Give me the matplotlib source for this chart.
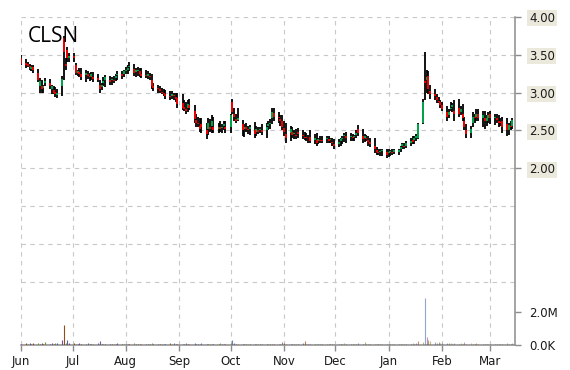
import matplotlib
matplotlib.use('Agg')
import matplotlib.pyplot as plt
import matplotlib.dates as mdates
import numpy as np
import pandas as pd

ticker = "CLSN"
start_date = "2018-06-01"
end_date = "2019-03-14"

# OHLC per trading day (Jun .. Mar)
opens = [
    3.46,3.39,3.37,3.35,3.31,3.33, 3.26,3.09,3.08,3.06,3.12, 3.13,3.04,3.03,3.01,2.97, 3.08,3.72,3.38,3.56,3.46,  # Jun
    3.48,3.36,3.26,3.27,3.24, 3.23,3.25,3.22,3.21,3.21, 3.19,3.10,3.07,3.13,3.17, 3.17,3.16,3.17,3.19,3.23, 3.24,3.25,  # Jul
    3.28,3.30,3.33, 3.31,3.27,3.29,3.28,3.24, 3.23,3.22,3.22,3.16,3.08, 3.06,3.04,3.01,3.00,2.98, 2.96,2.96,2.97,2.94,2.93,  # Aug
    2.86,2.81,2.78,2.80,2.83, 2.76,2.64,2.60,2.56,2.58, 2.50,2.52,2.55,2.56,2.55, 2.52,2.54,2.53,2.56,2.55,  # Sep
    2.55,2.88,2.71,2.65,2.64, 2.58,2.52,2.54,2.51,2.52, 2.50,2.48,2.50,2.50,2.51, 2.50,2.56,2.58,2.66,2.73, 2.68,2.65,2.62,  # Oct
    2.53,2.45, 2.46,2.48,2.45,2.44,2.48, 2.44,2.41,2.41,2.39,2.41, 2.37,2.37,2.36,2.37,2.37, 2.38,2.38,2.37,2.35,2.32,  # Nov
    2.32,2.36,2.39,2.42,2.43, 2.41,2.41,2.41,2.44,2.52, 2.43,2.40,2.40,2.37,2.35, 2.30,2.24,2.21,2.21,2.23, 2.22,  # Dec
    2.20,2.21,2.21,2.22, 2.21,2.25,2.29,2.30,2.30, 2.34,2.37,2.37,2.40,2.40, 2.60,3.15,3.16,3.22,3.02, 2.98,2.94,2.89,2.87,  # Jan
    2.83, 2.74,2.70,2.78,2.81,2.76, 2.80,2.74,2.72,2.62,2.50, 2.46,2.60,2.68,2.68,2.72, 2.67,2.67,2.63,2.67,  # Feb
    2.71, 2.66,2.66,2.62,2.61,2.62, 2.58,2.51,2.56,2.56,  # Mar
]
highs = [
    3.50,3.44,3.40,3.38,3.36,3.36, 3.31,3.19,3.16,3.10,3.19, 3.18,3.10,3.08,3.07,3.05, 3.22,3.74,3.46,3.60,3.52,
    3.52,3.39,3.30,3.32,3.32, 3.30,3.28,3.26,3.27,3.27, 3.25,3.17,3.12,3.20,3.23, 3.22,3.20,3.22,3.24,3.28, 3.28,3.30,
    3.34,3.36,3.40, 3.38,3.32,3.34,3.32,3.32, 3.30,3.28,3.26,3.24,3.12, 3.10,3.08,3.06,3.04,3.03, 3.02,3.02,3.00,2.99,3.00,
    2.98,2.90,2.88,2.90,2.92, 2.83,2.72,2.68,2.66,2.66, 2.60,2.67,2.65,2.70,2.68, 2.60,2.63,2.58,2.63,2.62,
    2.72,2.91,2.79,2.72,2.80, 2.64,2.58,2.60,2.56,2.57, 2.61,2.56,2.55,2.54,2.58, 2.60,2.62,2.65,2.80,2.79, 2.74,2.70,2.70,
    2.62,2.60, 2.56,2.54,2.50,2.52,2.53, 2.50,2.48,2.46,2.44,2.50, 2.45,2.46,2.40,2.42,2.42, 2.43,2.42,2.40,2.40,2.38,
    2.38,2.40,2.42,2.47,2.48, 2.46,2.45,2.44,2.50,2.57, 2.52,2.45,2.44,2.42,2.40, 2.40,2.28,2.26,2.25,2.26, 2.26,
    2.25,2.24,2.25,2.26, 2.26,2.30,2.34,2.34,2.36, 2.40,2.42,2.42,2.45,2.60, 2.92,3.54,3.30,3.28,3.10, 3.04,2.98,2.94,2.90,
    2.87, 2.82,2.78,2.87,2.86,2.90, 2.92,2.82,2.85,2.68,2.58, 2.56,2.74,2.72,2.78,2.78, 2.75,2.76,2.70,2.74,
    2.76, 2.72,2.72,2.70,2.66,2.68, 2.66,2.60,2.62,2.66,
]
lows = [
    3.36,3.32,3.33,3.30,3.28,3.26, 3.14,3.00,3.00,3.00,3.08, 3.05,2.98,2.98,2.94,2.93, 2.96,3.16,3.30,3.40,3.40,
    3.40,3.23,3.22,3.20,3.16, 3.14,3.18,3.15,3.16,3.14, 3.14,3.00,3.03,3.08,3.07, 3.10,3.10,3.12,3.15,3.17, 3.18,3.20,
    3.24,3.25,3.28, 3.22,3.20,3.22,3.20,3.19, 3.19,3.18,3.16,3.05,3.02, 3.00,3.00,2.98,2.95,2.92, 2.90,2.92,2.90,2.88,2.80,
    2.77,2.75,2.72,2.74,2.77, 2.60,2.55,2.54,2.48,2.47, 2.38,2.44,2.48,2.46,2.46, 2.46,2.48,2.47,2.50,2.47,
    2.47,2.72,2.63,2.60,2.62, 2.42,2.41,2.48,2.45,2.44, 2.40,2.42,2.45,2.46,2.44, 2.40,2.50,2.52,2.58,2.62, 2.60,2.56,2.50,
    2.42,2.34, 2.36,2.40,2.38,2.38,2.40, 2.38,2.37,2.36,2.34,2.33, 2.32,2.30,2.32,2.34,2.33, 2.33,2.34,2.33,2.30,2.26,
    2.28,2.30,2.32,2.35,2.34, 2.36,2.36,2.36,2.40,2.42, 2.33,2.35,2.36,2.30,2.28, 2.20,2.17,2.17,2.16,2.16, 2.14,
    2.15,2.16,2.18,2.19, 2.18,2.22,2.26,2.25,2.27, 2.30,2.32,2.32,2.36,2.39, 2.58,2.90,3.00,2.98,2.92, 2.90,2.86,2.86,2.80,
    2.75, 2.63,2.66,2.76,2.74,2.63, 2.68,2.70,2.62,2.50,2.40, 2.40,2.55,2.60,2.62,2.62, 2.55,2.52,2.56,2.60,
    2.58, 2.57,2.60,2.55,2.56,2.46, 2.43,2.44,2.50,2.52,
]
closes = [
    3.38,3.36,3.35,3.33,3.33,3.30, 3.16,3.15,3.05,3.08,3.15, 3.08,3.08,3.00,2.98,3.00, 3.18,3.54,3.35,3.45,3.48,
    3.45,3.26,3.28,3.25,3.20, 3.26,3.22,3.20,3.24,3.18, 3.16,3.04,3.10,3.15,3.20, 3.14,3.18,3.15,3.22,3.24, 3.22,3.28,
    3.30,3.32,3.35, 3.26,3.30,3.30,3.25,3.22, 3.22,3.24,3.20,3.08,3.06, 3.04,3.02,3.00,2.98,2.96, 2.94,2.98,2.95,2.92,2.85,
    2.80,2.78,2.75,2.85,2.80, 2.65,2.60,2.58,2.52,2.55, 2.45,2.60,2.52,2.62,2.50, 2.55,2.52,2.55,2.58,2.52,
    2.70,2.74,2.68,2.62,2.66, 2.50,2.55,2.52,2.50,2.54, 2.45,2.52,2.48,2.52,2.48, 2.55,2.58,2.60,2.74,2.68, 2.66,2.62,2.55,
    2.48,2.40, 2.52,2.44,2.46,2.42,2.45, 2.42,2.40,2.40,2.38,2.36, 2.40,2.34,2.38,2.36,2.36, 2.40,2.36,2.38,2.33,2.30,
    2.35,2.38,2.40,2.44,2.40, 2.42,2.40,2.42,2.47,2.46, 2.38,2.42,2.38,2.35,2.32, 2.26,2.22,2.20,2.22,2.24, 2.18,
    2.22,2.22,2.20,2.24, 2.24,2.28,2.32,2.28,2.34, 2.36,2.35,2.40,2.42,2.58, 2.88,3.12,3.20,3.04,2.98, 2.95,2.90,2.88,2.84,
    2.78, 2.68,2.74,2.80,2.84,2.72, 2.72,2.78,2.66,2.55,2.45, 2.52,2.68,2.66,2.72,2.66, 2.70,2.62,2.66,2.70,
    2.66, 2.68,2.64,2.60,2.60,2.55, 2.50,2.57,2.55,2.64,
]
# volume in millions of shares
volumes_m = [
    0.08,0.12,0.06,0.10,0.05,0.15, 0.10,0.08,0.12,0.06,0.18, 0.09,0.14,0.07,0.12,0.10, 0.30,1.20,0.10,0.30,0.12,
    0.15,0.08,0.05,0.10,0.06, 0.08,0.12,0.06,0.09,0.07, 0.10,0.22,0.08,0.06,0.09, 0.07,0.05,0.08,0.06,0.10, 0.07,0.06,
    0.05,0.08,0.06, 0.10,0.07,0.05,0.08,0.06, 0.07,0.09,0.05,0.12,0.08, 0.06,0.07,0.05,0.09,0.06, 0.10,0.07,0.12,0.08,0.06,
    0.08,0.06,0.12,0.07,0.05, 0.15,0.08,0.06,0.07,0.10, 0.09,0.06,0.08,0.05,0.07, 0.06,0.10,0.07,0.05,0.08,
    0.12,0.30,0.10,0.07,0.06, 0.09,0.07,0.05,0.08,0.06, 0.07,0.05,0.08,0.06,0.07, 0.06,0.08,0.05,0.07,0.06, 0.08,0.06,0.18,
    0.10,0.07, 0.06,0.08,0.05,0.09,0.06, 0.12,0.25,0.08,0.06,0.07, 0.05,0.08,0.06,0.07,0.05, 0.08,0.06,0.07,0.09,0.06,
    0.07,0.05,0.08,0.15,0.06, 0.07,0.05,0.06,0.08,0.10, 0.06,0.18,0.07,0.05,0.06, 0.05,0.04,0.06,0.08,0.07, 0.09,
    0.05,0.08,0.06,0.07, 0.06,0.09,0.07,0.05,0.08, 0.07,0.10,0.08,0.12,0.25, 0.20,2.85,0.50,0.30,0.25, 0.18,0.15,0.20,0.12,
    0.15, 0.12,0.10,0.14,0.08,0.10, 0.09,0.12,0.08,0.18,0.07, 0.10,0.06,0.08,0.12,0.07, 0.06,0.08,0.05,0.07,
    0.06, 0.08,0.05,0.07,0.06,0.09, 0.10,0.06,0.08,0.12,
]
price_ticks = [2.00, 2.50, 3.00, 3.50, 4.00]
volume_ticks = [0, 2.0e6]
volume_labels = ["0.0K", "2.0M"]

dates = pd.bdate_range(start_date, end_date)
n = len(dates)
assert len(opens) == n and len(highs) == n and len(lows) == n and len(closes) == n and len(volumes_m) == n, \
    (n, len(opens), len(highs), len(lows), len(closes), len(volumes_m))

x = mdates.date2num(dates.to_pydatetime())
o = np.array(opens); h = np.array(highs); l = np.array(lows); c = np.array(closes)
vol = np.array(volumes_m) * 1e6

W, H = 570, 370
fig = plt.figure(figsize=(W / 100, H / 100), dpi=100)
rect = [21 / W, 25 / H, 494 / W, 328.3 / H]
ax = fig.add_axes(rect)
axv = fig.add_axes(rect, sharex=ax)
axv.patch.set_visible(False)

grid_kw = dict(color='#c8c8c8', linestyle=(0, (4, 4)), linewidth=0.8)

# candles
ax.vlines(x, l, h, colors='black', linewidth=1.3, zorder=3)
up = c >= o
body_lo = np.minimum(o, c); body_hi = np.maximum(o, c)
body_hi = np.where(body_hi - body_lo < 0.012, body_lo + 0.012, body_hi)
ax.vlines(x[up], body_lo[up], body_hi[up], colors='#00b050', linewidth=1.3, zorder=4)
ax.vlines(x[~up], body_lo[~up], body_hi[~up], colors='#ff0000', linewidth=1.3, zorder=4)

ax.set_ylim(-0.331, 4.0)
ax.set_xlim(mdates.date2num(pd.Timestamp('2018-06-01')), mdates.date2num(pd.Timestamp('2019-03-15 12:00')))
ax.yaxis.tick_right()
ax.set_yticks(price_ticks)
ax.set_yticklabels([f"{t:.2f}" for t in price_ticks])
ax.set_yticks([0.5, 1.0, 1.5], minor=True)
ax.yaxis.grid(True, which='both', **grid_kw)
ax.xaxis.set_major_locator(mdates.MonthLocator())
ax.xaxis.set_major_formatter(mdates.DateFormatter('%b'))
ax.xaxis.grid(True, **grid_kw)
ax.set_axisbelow(True)
ax.tick_params(axis='y', which='major', direction='out', length=4, width=1, color='#8c8c8c',
               labelsize=8.5, labelcolor='#1a1a1a', pad=6, right=True, left=False)
ax.tick_params(axis='y', which='minor', length=0, right=False, left=False)
ax.tick_params(axis='x', direction='out', length=4, width=1, color='#8c8c8c',
               labelsize=8.5, labelcolor='#1a1a1a', pad=3)
for s in ['left', 'top']:
    ax.spines[s].set_visible(False)
for s in ['right', 'bottom']:
    ax.spines[s].set_color('#8c8c8c')
    ax.spines[s].set_linewidth(1.1)
for t in ax.yaxis.get_major_ticks():
    t.label2.set_bbox(dict(facecolor='#ebe8dc', edgecolor='none', pad=1.2))

# volume
palette = ['#7a3f8f', '#8b4513', '#6b8e23', '#3a5fa0']
alphas = np.linspace(1.0, 0.45, n)
for i in range(n):
    axv.vlines(x[i], 0, vol[i], colors=palette[i % 4], alpha=alphas[i], linewidth=0.8)
axv.set_ylim(0, 19.7e6)
axv.yaxis.tick_right()
axv.set_yticks(volume_ticks)
axv.set_yticklabels(volume_labels)
axv.tick_params(axis='y', direction='out', length=4, width=1, color='#8c8c8c',
                labelsize=8.5, labelcolor='#1a1a1a', pad=6)
axv.tick_params(axis='x', bottom=False, labelbottom=False)
for s in axv.spines.values():
    s.set_visible(False)

fig.text(28 / W, 1 - 42 / H, ticker, fontsize=15, family='Open Sans', color='black', va='baseline')

fig.savefig('out.png', dpi=100)
